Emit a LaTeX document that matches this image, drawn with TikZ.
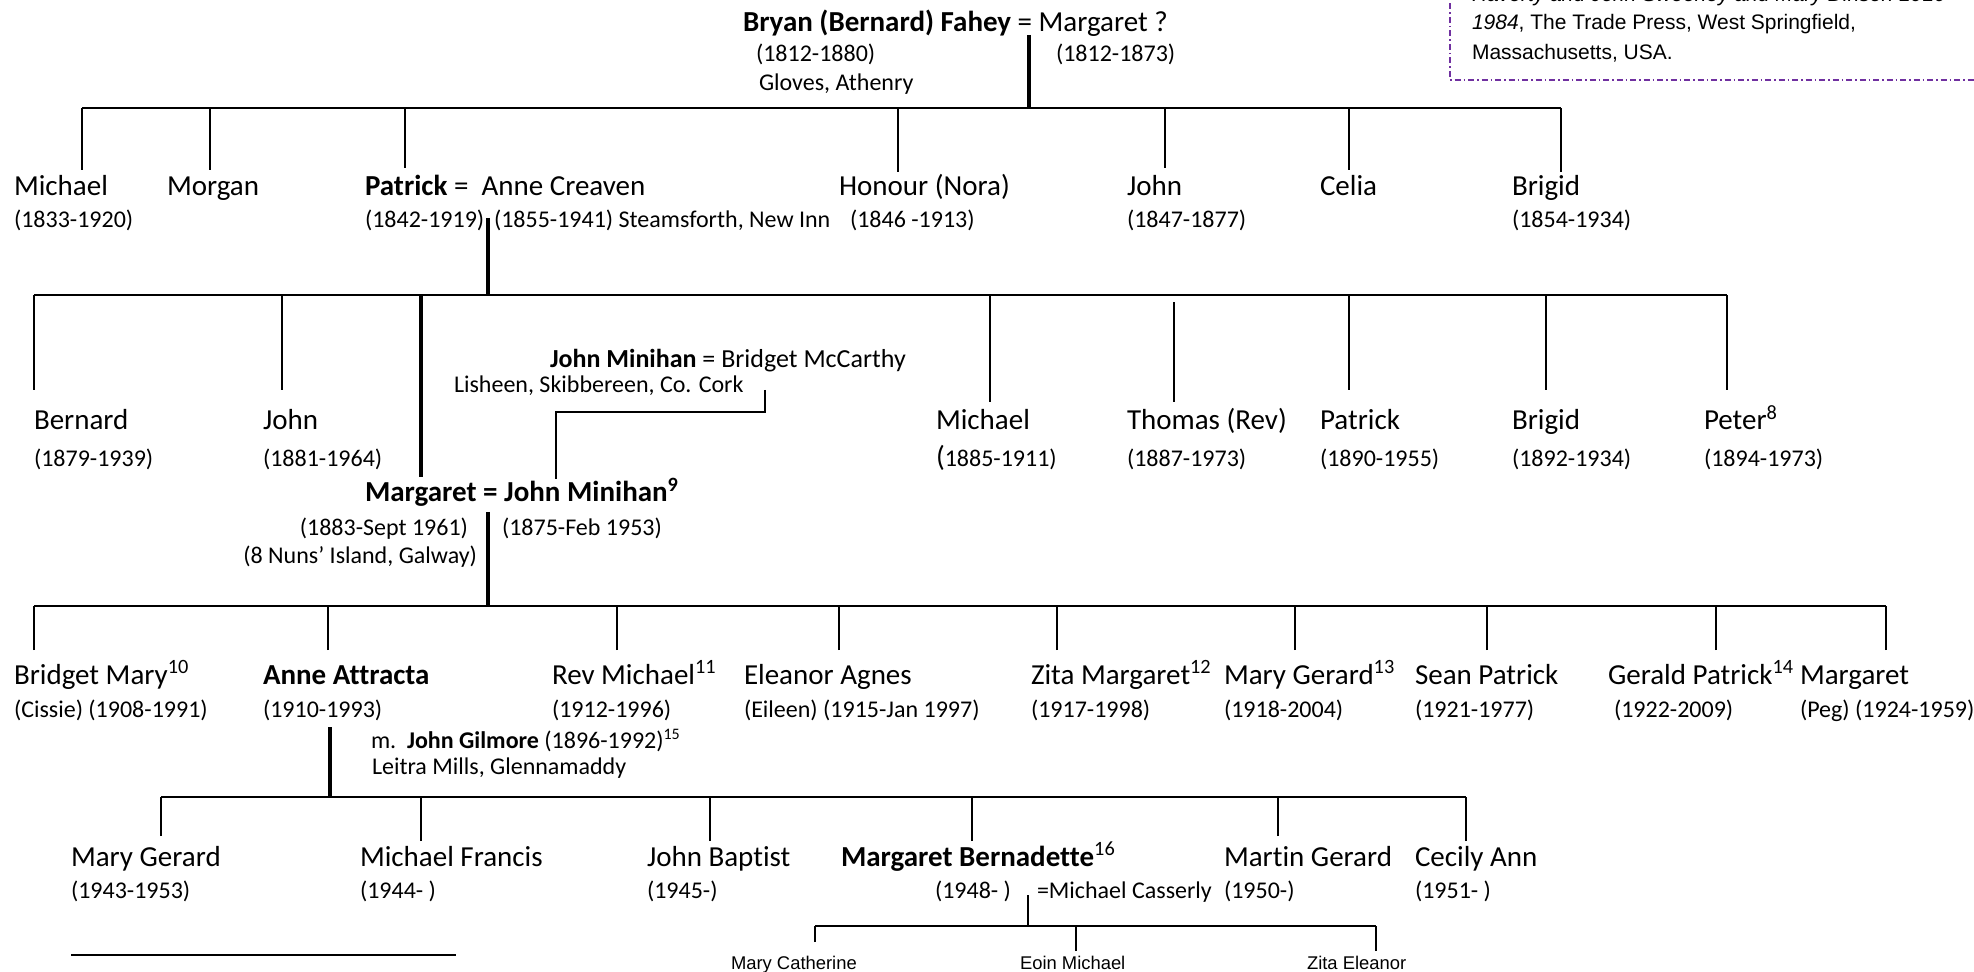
\documentclass[tikz,border=0pt]{standalone}
\usepackage{fontspec}
\setmainfont{Carlito}[Ligatures=NoCommon]
\newfontfamily\arialf{Liberation Sans}
\definecolor{notepurple}{HTML}{7030A0}
\begin{document}
\begin{tikzpicture}[x=0.5pt,y=-0.5pt,
  every node/.style={inner sep=0pt,outer sep=0pt,anchor=base west},
  nm/.style={font=\fontsize{14.5}{17}\selectfont},
  dt/.style={font=\fontsize{12}{14}\selectfont},
  md/.style={font=\fontsize{13}{15}\selectfont},
  sm/.style={font=\arialf\fontsize{9.2}{11}\selectfont},
  bx/.style={font=\arialf\fontsize{10.5}{12}\selectfont},
  bar/.style={line width=1pt},
  kin/.style={line width=0.75pt},
  wed/.style={line width=2pt},
  note/.style={draw=notepurple,line width=0.6pt,dash pattern=on 3pt off 1.5pt on 0.75pt off 1.5pt}]
\useasboundingbox (0,0) rectangle (1974,972);

% ---- source note box (top right) ----
\coordinate (nb1) at (1450,-10);
\coordinate (nb2) at (1450,80);
\coordinate (nb3) at (1990,80);
\draw[note] (nb1) -- (nb2) -- (nb3);
\node[bx] (src1) at (1472,2) {\itshape Haverty and John Sweeney and Mary Dinsen 1910-};
\node[bx] (src2) at (1472,30) {{\itshape 1984}, The Trade Press, West Springfield,};
\node[bx] (src3) at (1472,60) {Massachusetts, USA.};

% ---- generation 0 ----
\node[nm] (bryan) at (743,32) {\textbf{Bryan (Bernard) Fahey} = Margaret ?};
\node[dt] (bryand) at (756,62) {(1812-1880)};
\node[dt] (gloves) at (759,91) {Gloves, Athenry};
\node[dt] (margqd) at (1056,62) {(1812-1873)};

% bar 1
\coordinate (b1l) at (82,108);
\coordinate (b1r) at (1561,108);
\draw[bar] (b1l) -- (b1r);
\coordinate (w0) at (1029,35);
\draw[wed] (w0) -- (w0 |- b1l);
\foreach \n/\x/\y in {michael/82/170,morgan/210/170,patrick/405/168,honour/898/172,john/1165/168,celia/1349/170,brigid/1561/172}{
  \coordinate (k1-\n) at (\x,\y);
  \draw[kin] (k1-\n) -- (k1-\n |- b1l);
}

% ---- generation 1 ----
\node[nm] (g1michael) at (14,196) {Michael};
\node[dt] (g1michaeld) at (14,228) {(1833-1920)};
\node[nm] (g1morgan) at (167,196) {Morgan};
\node[nm] (g1patrick) at (365,196) {\textbf{Patrick} =\ \ Anne Creaven};
\node[dt] (g1patrickd) at (365,228) {(1842-1919)};
\node[dt] (g1anned) at (494,228) {(1855-1941) Steamsforth, New Inn};
\node[nm] (g1honour) at (839,196) {Honour (Nora)};
\node[dt] (g1honourd) at (850,228) {(1846 -1913)};
\node[nm] (g1john) at (1127,196) {John};
\node[dt] (g1johnd) at (1127,228) {(1847-1877)};
\node[nm] (g1celia) at (1320,196) {Celia};
\node[nm] (g1brigid) at (1512,196) {Brigid};
\node[dt] (g1brigidd) at (1512,228) {(1854-1934)};

% bar 2
\coordinate (b2l) at (34,295);
\coordinate (b2r) at (1727,295);
\draw[bar] (b2l) -- (b2r);
\coordinate (w1) at (488,218);
\draw[wed] (w1) -- (w1 |- b2l);
\coordinate (w1m) at (421,477);
\draw[wed] (w1m) -- (w1m |- b2l);
\foreach \n/\x/\y in {bernard/34/390,john/282/390,michael/990/402,patrick/1349/390,brigid/1546/390,peter/1727/390}{
  \coordinate (k2-\n) at (\x,\y);
  \draw[kin] (k2-\n) -- (k2-\n |- b2l);
}
\coordinate (k2-thomas) at (1174,402);
\coordinate (k2-thomast) at (1174,302);
\draw[kin] (k2-thomas) -- (k2-thomast);

% ---- generation 2 ----
\node[nm] (g2bernard) at (34,430) {Bernard};
\node[dt] (g2bernardd) at (34,467) {(1879-1939)};
\node[nm] (g2john) at (263,430) {John};
\node[dt] (g2johnd) at (263,467) {(1881-1964)};
\node[nm] (g2michael) at (936,430) {Michael};
\node[dt] (g2michaeld) at (936,467) {{\fontsize{14.5}{17}\selectfont(}1885-1911)};
\node[nm] (g2thomas) at (1127,430) {Thomas (Rev)};
\node[dt] (g2thomasd) at (1127,467) {(1887-1973)};
\node[nm] (g2patrick) at (1320,430) {Patrick};
\node[dt] (g2patrickd) at (1320,467) {(1890-1955)};
\node[nm] (g2brigid) at (1512,430) {Brigid};
\node[dt] (g2brigidd) at (1512,467) {(1892-1934)};
\node[nm] (g2peter) at (1704,430) {Peter\textsuperscript{8}};
\node[dt] (g2peterd) at (1704,467) {(1894-1973)};

% Minihan parents
\node[md] (jmin) at (550,368) {\textbf{John Minihan} = Bridget McCarthy};
\node[dt] (lish) at (454,393) {Lisheen, Skibbereen, Co. Cork};
\coordinate (jm1) at (765,390);
\coordinate (jmk) at (556,412);
\coordinate (jm2) at (556,479);
\draw[kin] (jm1) |- (jmk) -- (jm2);

% Margaret = John Minihan
\node[nm] (marg) at (365,502) {\textbf{Margaret = John Minihan\textsuperscript{9}}};
\node[dt,anchor=base east] (margd) at (468,535) {(1883-Sept 1961)};
\node[dt] (jmind) at (502,535) {(1875-Feb 1953)};
\node[dt,anchor=base east] (nuns) at (477,563) {(8 Nuns’ Island, Galway)};

% bar 3
\coordinate (b3l) at (34,606);
\coordinate (b3r) at (1886,606);
\draw[bar] (b3l) -- (b3r);
\coordinate (w2) at (488,512);
\draw[wed] (w2) -- (w2 |- b3l);
\foreach \n/\x in {bridget/34,anne/328,michael/617,eleanor/839,zita/1057,mary/1295,sean/1487,gerald/1716,margaret/1886}{
  \coordinate (k3-\n) at (\x,650);
  \draw[kin] (k3-\n) -- (k3-\n |- b3l);
}

% ---- generation 3 ----
\node[nm] (g3bridget) at (14,684) {Bridget Mary\textsuperscript{10}};
\node[dt] (g3bridgetd) at (14,717) {(Cissie) (1908-1991)};
\node[nm] (g3anne) at (263,684) {\textbf{Anne Attracta}};
\node[dt] (g3anned) at (263,717) {(1910-1993)};
\node[nm] (g3michael) at (552,684) {Rev Michael\textsuperscript{11}};
\node[dt] (g3michaeld) at (552,717) {(1912-1996)};
\node[nm] (g3eleanor) at (744,684) {Eleanor Agnes};
\node[dt] (g3eleanord) at (744,717) {(Eileen) (1915-Jan 1997)};
\node[nm] (g3zita) at (1031,684) {Zita Margaret\textsuperscript{12}};
\node[dt] (g3zitad) at (1031,717) {(1917-1998)};
\node[nm] (g3mary) at (1224,684) {Mary Gerard\textsuperscript{13}};
\node[dt] (g3maryd) at (1224,717) {(1918-2004)};
\node[nm] (g3sean) at (1415,684) {Sean Patrick};
\node[dt] (g3seand) at (1415,717) {(1921-1977)};
\node[nm] (g3gerald) at (1608,684) {Gerald Patrick\textsuperscript{14}};
\node[dt] (g3geraldd) at (1614,717) {(1922-2009)};
\node[nm] (g3margaret) at (1800,684) {Margaret};
\node[dt] (g3margaretd) at (1800,717) {(Peg) (1924-1959)};

% Anne Attracta = John Gilmore
\node[dt] (gilm) at (371,748) {m.\ \ \textbf{John Gilmore} (1896-1992)\textsuperscript{15}};
\node[dt] (leitra) at (372,774) {Leitra Mills, Glennamaddy};

% bar 4
\coordinate (b4l) at (161,797);
\coordinate (b4r) at (1466,797);
\draw[bar] (b4l) -- (b4r);
\coordinate (w3) at (330,727);
\draw[wed] (w3) -- (w3 |- b4l);
\foreach \n/\x/\y in {mary/161/836,michael/421/841,john/710/841,margaret/972/841,martin/1278/836,cecily/1466/841}{
  \coordinate (k4-\n) at (\x,\y);
  \draw[kin] (k4-\n) -- (k4-\n |- b4l);
}

% ---- generation 4 ----
\node[nm] (g4mary) at (71,866) {Mary Gerard};
\node[dt] (g4maryd) at (71,898) {(1943-1953)};
\node[nm] (g4michael) at (360,866) {Michael Francis};
\node[dt] (g4michaeld) at (360,898) {(1944- )};
\node[nm] (g4john) at (647,866) {John Baptist};
\node[dt] (g4johnd) at (647,898) {(1945-)};
\node[nm] (g4margaret) at (841,866) {\textbf{Margaret Bernadette}\textsuperscript{16}};
\node[dt] (g4margaretd) at (935,898) {(1948- )};
\node[dt] (casserly) at (1037,898) {=Michael Casserly};
\node[nm] (g4martin) at (1224,866) {Martin Gerard};
\node[dt] (g4martind) at (1224,898) {(1950-)};
\node[nm] (g4cecily) at (1415,866) {Cecily Ann};
\node[dt] (g4cecilyd) at (1415,898) {(1951- )};

% bar 5
\coordinate (b5l) at (815,926);
\coordinate (b5r) at (1376,926);
\draw[bar] (b5l) -- (b5r);
\coordinate (w4) at (1028,895);
\draw[kin] (w4) -- (w4 |- b5l);
\foreach \n/\x/\y in {marycath/815/942,eoin/1076/951,zita/1376/951}{
  \coordinate (k5-\n) at (\x,\y);
  \draw[kin] (k5-\n) -- (k5-\n |- b5l);
}

% ---- generation 5 ----
\node[sm] (g5marycath) at (731,969) {Mary Catherine};
\node[sm] (g5eoin) at (1020,969) {Eoin Michael};
\node[sm] (g5zita) at (1307,969) {Zita Eleanor};

% footnote separator
\coordinate (fn1) at (71,955);
\coordinate (fn2) at (456,955);
\draw[kin] (fn1) -- (fn2);
\end{tikzpicture}
\end{document}
